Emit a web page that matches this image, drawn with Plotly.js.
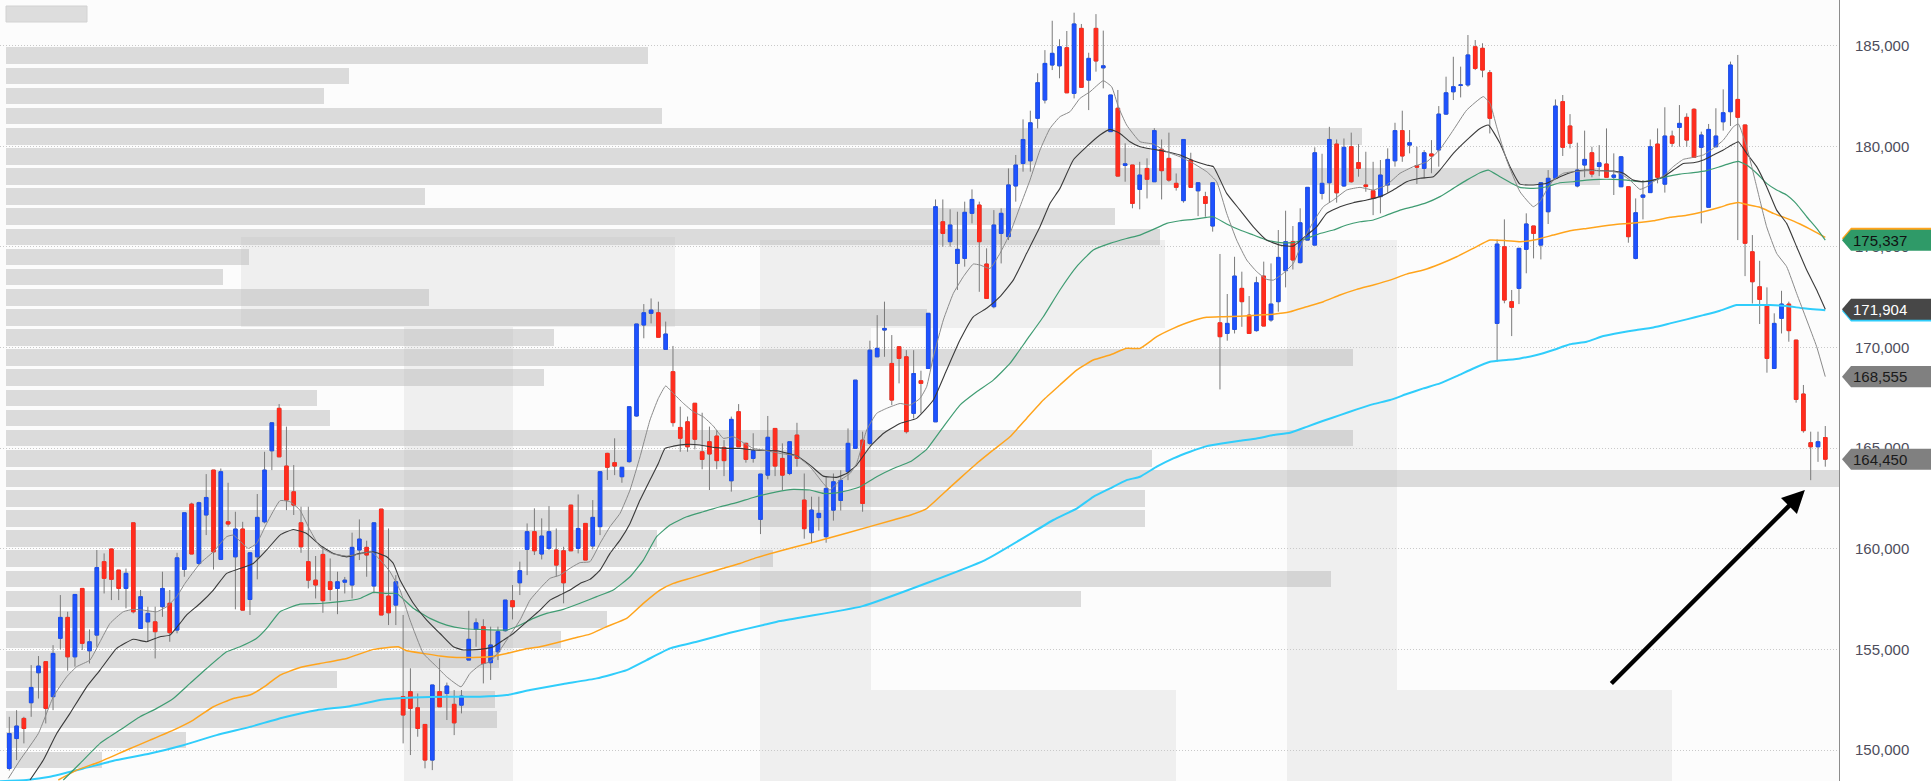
<!DOCTYPE html>
<html><head><meta charset="utf-8">
<script src="https://cdn.plot.ly/plotly-3.0.1.min.js"></script>
<style>html,body{margin:0;padding:0;background:#fff;overflow:hidden}#chart{width:1931px;height:781px}</style>
</head><body><div id="chart"></div>
<script>
// ---- candle data (thousand yen) ----
const open = [149.08,150.57,151.57,152.35,153.84,154.39,152.65,155.55,156.59,154.63,
158.03,154.93,155.71,159.36,159.99,158.94,158.03,161.29,156.04,156.37,
156.37,157.12,157.29,155.96,158.97,162.22,159.27,161.68,163.91,159.47,
161.34,159.6,160.98,157.48,159.6,161.34,164.87,166.98,164.11,162.83,
161.29,159.36,158.44,159.72,158.36,158.03,158.34,158.2,159.94,160.07,
158.15,161.97,157.65,157.2,152.65,152.9,152.1,151.27,149.5,152.9,
152.81,152.27,152.23,154.47,155.99,156.13,154.34,154.88,155.93,157.42,
158.31,159.97,160.85,159.74,160.02,159.94,159.9,162.17,160.02,161.26,
160.14,161.1,164.74,164.28,163.58,164.33,166.6,171.12,171.7,171.73,
169.91,168.8,166.03,166.31,167.23,164.82,165.32,165.6,165.04,163.38,
166.81,165.24,164.49,161.46,163.66,165.98,164.49,163.74,165.65,162.42,
160.8,161.55,160.6,161.92,162.4,163.83,164.99,165.4,165.24,169.54,
170.87,169.21,170.04,169.54,166.73,168.35,168.96,166.31,176.25,175.26,
174.18,174.43,176.67,177.08,174.15,172.03,175.67,175.51,178.03,179.15,
179.28,181.39,182.3,184.04,184.0,184.9,182.63,185.86,183.29,185.86,
183.9,180.73,181.89,179.05,179.07,177.86,178.9,178.24,179.85,179.4,
178.16,177.3,179.32,177.79,177.5,176.04,171.23,170.7,170.9,172.94,
171.61,170.84,173.55,171.37,172.28,173.82,175.26,174.22,175.34,175.09,
177.66,178.19,180.11,178.03,179.98,179.19,178.08,177.79,177.5,178.08,
179.28,180.78,180.06,179.04,178.9,179.62,179.82,181.6,182.71,183.03,
183.05,184.95,184.87,183.66,171.2,175.01,172.28,172.94,174.88,176.04,
175.09,176.75,178.41,182.22,181.01,178.03,179.07,179.68,179.0,179.12,
178.46,177.99,177.99,174.43,177.47,177.7,180.11,178.12,180.51,180.94,
181.44,181.84,179.95,176.97,179.98,181.22,181.72,182.33,181.06,174.76,
173.02,172.06,168.96,171.45,172.16,170.37,167.69,165.27,165.07,165.53];
const high = [151.65,151.98,151.65,154.22,154.67,154.39,155.21,157.7,156.87,157.73,
158.03,155.99,159.94,159.77,159.99,158.94,159.02,161.29,157.95,157.12,
157.12,158.86,157.95,159.8,161.79,162.29,162.34,163.71,163.91,163.99,
163.28,161.84,161.34,159.8,162.72,164.82,166.26,167.19,166.07,164.16,
162.09,162.09,159.64,160.1,159.52,158.86,158.6,160.8,161.46,160.4,
161.29,161.97,161.01,158.69,156.71,154.06,152.81,151.27,153.23,154.55,
153.35,152.98,152.98,156.92,156.54,156.5,156.13,156.13,157.45,158.2,
159.36,161.26,162.01,161.51,162.12,161.01,160.1,162.17,162.7,161.26,
162.42,163.83,164.77,165.49,164.05,167.06,171.17,172.16,172.44,172.28,
171.29,170.08,167.06,166.57,167.23,166.76,166.07,165.9,165.4,166.57,
167.19,165.27,165.74,163.71,166.6,165.98,165.24,165.32,166.26,163.74,
162.59,162.59,163.58,163.74,163.9,165.98,168.38,165.82,170.34,171.61,
172.28,170.62,170.04,169.87,169.87,168.85,171.7,177.36,177.36,176.87,
176.75,177.25,177.86,177.25,174.93,176.83,176.92,178.9,179.57,181.34,
181.77,183.63,184.78,186.24,185.32,185.73,186.64,186.08,184.65,186.57,
185.75,182.55,182.8,180.15,179.07,179.23,179.4,180.9,180.34,180.68,
178.65,180.34,179.68,178.19,177.74,178.19,174.65,172.66,174.51,173.77,
172.56,173.52,174.27,174.18,175.84,176.8,176.04,176.92,177.96,179.95,
179.63,180.97,180.34,180.39,180.68,180.11,179.73,179.23,179.32,179.9,
181.17,181.77,180.81,179.98,179.81,180.31,182.0,183.46,184.45,183.96,
185.53,185.28,185.12,183.79,175.37,176.37,172.86,174.93,176.67,176.04,
178.19,178.82,182.33,182.55,181.6,180.18,180.78,179.98,180.06,180.89,
179.65,179.52,177.99,177.41,178.32,180.34,180.89,181.94,180.78,182.05,
181.64,181.89,180.73,181.11,181.89,182.83,184.21,184.54,181.06,175.59,
174.31,172.99,171.7,172.82,172.28,170.37,168.14,165.82,165.82,166.1];
const low = [148.98,149.5,150.33,151.65,152.56,151.32,151.98,155.0,153.94,154.14,
154.97,154.3,155.13,157.78,157.45,157.45,157.04,156.79,156.04,155.38,
154.55,156.62,155.38,155.8,158.61,159.74,159.19,160.68,158.97,159.44,
161.1,156.99,156.95,156.71,158.48,161.26,163.91,164.57,161.92,161.68,
159.8,158.03,157.53,156.82,157.42,156.75,157.78,157.53,159.44,158.61,
157.78,156.71,156.21,156.21,150.33,149.75,150.66,149.09,149.0,152.15,
151.49,150.74,151.82,154.47,155.13,153.31,153.48,154.47,155.88,156.49,
157.7,158.69,159.69,159.47,159.94,158.61,157.29,159.9,159.77,159.44,
159.97,160.68,163.42,163.66,163.28,164.28,166.57,170.46,171.2,170.51,
169.91,166.07,164.82,164.82,164.94,163.95,162.92,163.95,163.61,162.84,
165.07,164.28,164.28,160.73,163.45,163.61,162.92,163.66,164.08,160.5,
160.3,160.9,160.3,161.4,161.9,163.41,164.99,161.84,165.15,169.54,
169.54,167.14,168.22,165.73,166.48,166.73,168.96,166.31,175.01,175.01,
172.86,174.02,176.17,172.77,172.44,171.95,174.18,175.34,177.25,178.74,
178.74,180.89,182.13,183.79,183.38,182.66,182.38,182.93,181.8,183.71,
182.88,180.73,178.52,178.24,176.92,176.87,177.41,178.24,177.36,178.24,
177.8,177.2,177.96,176.53,176.5,175.76,167.92,170.34,170.7,171.03,
170.7,170.79,171.07,171.28,171.78,172.99,173.88,174.18,175.34,175.09,
177.36,177.2,177.2,177.99,178.19,178.49,177.74,176.58,176.67,177.7,
178.99,179.23,179.65,178.13,178.41,178.66,178.99,181.56,182.3,182.43,
182.96,183.79,183.43,180.64,169.29,172.2,170.57,172.16,173.69,174.43,
174.38,176.14,178.41,179.52,179.9,177.96,178.46,178.46,178.52,178.46,
177.58,177.99,175.21,174.38,176.37,177.7,178.16,177.7,179.98,179.98,
179.98,179.45,176.17,176.97,179.95,180.78,181.01,175.34,173.55,172.19,
171.17,168.75,168.96,170.7,170.29,167.26,165.77,163.41,164.32,164.08];
const close = [150.82,151.19,151.07,153.11,154.17,152.07,154.8,156.59,154.63,157.73,
155.3,155.38,159.07,158.53,158.48,158.03,158.78,156.87,157.62,156.79,
155.88,158.03,155.83,159.55,161.79,159.74,162.29,162.55,159.85,163.83,
161.23,160.98,156.95,159.8,161.56,163.91,166.26,164.57,162.42,162.17,
160.1,158.44,158.2,157.42,157.98,158.36,158.44,160.07,160.48,159.69,
161.29,156.71,156.82,158.36,151.74,152.07,151.07,149.5,153.23,152.15,
153.18,151.35,152.68,155.5,156.32,154.3,155.22,155.88,157.45,157.12,
158.91,160.85,159.9,160.63,160.85,159.19,158.31,159.9,161.01,159.44,
161.56,163.83,164.05,164.11,164.05,167.06,171.17,171.73,171.86,170.51,
170.67,166.27,165.49,165.07,165.44,164.44,164.71,164.38,164.38,166.43,
165.07,164.44,164.87,163.71,165.54,164.11,163.66,165.32,164.49,161.0,
161.92,161.76,163.0,163.33,163.4,165.24,168.38,162.25,169.87,169.96,
170.95,167.39,169.46,165.82,168.71,168.22,171.7,177.0,175.67,176.09,
174.88,176.72,177.36,175.26,172.44,176.09,176.67,178.08,179.07,180.34,
181.17,183.16,184.12,184.62,184.95,182.66,186.08,182.93,184.37,184.24,
184.0,182.55,178.52,179.13,177.16,178.57,178.36,180.78,178.79,178.32,
177.96,180.34,177.96,178.19,177.16,178.19,170.54,171.2,173.55,172.28,
170.7,173.22,171.07,172.16,174.48,175.26,174.35,176.2,177.96,179.68,
178.16,180.34,177.69,179.95,178.24,178.9,178.0,177.41,178.57,179.35,
180.78,179.52,180.18,178.96,179.68,179.52,181.6,182.66,182.96,183.05,
184.54,183.87,183.79,181.39,175.14,172.36,172.0,174.93,176.14,175.67,
178.19,178.41,182.0,179.95,180.15,178.82,179.35,178.62,179.18,178.46,
178.57,179.48,175.51,176.7,177.58,179.98,178.46,180.51,180.15,181.14,
180.31,179.45,180.56,180.84,180.51,181.67,184.04,181.44,175.18,173.27,
172.39,169.46,171.2,172.16,170.84,167.42,165.87,165.07,165.32,164.45];

// ---- moving averages: [candle index, value] ----
const ma10 = [[-0.13,148.59],[1.47,149.5],[3.98,150.82],[6.04,152.65],[7.87,153.64],[9.24,154.14],[11.06,154.47],[12.44,155.38],[13.81,156.29],[15.63,156.87],[17,156.99],[18.38,156.95],[20.21,156.87],[21.58,157.12],[22.95,157.62],[24.09,158.28],[26.15,159.27],[27.98,159.85],[29.8,160.6],[30.72,160.68],[32.77,160.02],[33.92,160.27],[35.29,161.26],[37.12,162.39],[38.49,162.34],[39.86,161.92],[41.23,160.93],[42.6,160.1],[44.43,159.74],[46.26,159.64],[48.08,159.74],[49.68,159.85],[51.28,159.27],[52.2,158.86],[53.57,157.95],[54.94,156.46],[56.77,154.8],[58.6,154.14],[59.97,153.64],[61.94,153.14],[63.17,153.81],[64.54,154.22],[65.91,154.39],[67.28,154.97],[68.65,155.71],[70.03,156.46],[71.4,157.45],[72.77,158.03],[74.14,158.53],[75.51,158.69],[76.88,159.03],[78.25,159.31],[79.62,159.36],[81,160.27],[82.37,161.1],[83.74,161.76],[85.11,162.92],[86.48,164.57],[87.85,166.4],[88.99,167.47],[90,168.09],[91.05,167.72],[92.42,167.23],[93.79,166.81],[95.16,166.56],[96.53,166.1],[97.9,165.49],[99.28,165.57],[100.65,165.27],[102.02,164.99],[103.5,164.9],[105.67,164.74],[107.96,164.61],[109.79,164.08],[111.61,163.25],[112.53,162.92],[113.9,163.41],[115.27,163.74],[116.18,164.24],[117.56,165.9],[118.93,166.73],[120.3,166.98],[122.13,167.22],[123.5,167.14],[124.87,167.47],[125.78,168.05],[126.7,169.54],[128.07,171.37],[129.44,172.69],[130.81,173.52],[132.18,174.15],[133.1,174.1],[134.47,173.93],[135.84,174.68],[137.21,175.67],[138.58,177],[139.95,178.32],[141.32,179.81],[142.69,180.89],[144.06,181.47],[145.43,181.72],[146.8,182.38],[148.18,182.71],[150,183.26],[151.15,182.96],[152.06,181.97],[153.2,181.06],[155.04,180.23],[156.87,180.11],[158.7,179.73],[160.52,179.48],[162.35,179.15],[164.18,178.74],[165.55,178.24],[166.92,176.67],[168.29,175.34],[169.67,174.35],[171.04,173.77],[172.41,173.39],[173.32,173.35],[174.69,173.69],[176.06,174.18],[177.43,175.34],[178.81,176.25],[180.18,177],[181.55,177.33],[183.38,177.83],[185.2,177.96],[187.03,177.83],[188.86,178.08],[190.69,178.66],[192.52,178.99],[194.35,179.23],[196.17,179.85],[198,180.81],[199.83,181.8],[202.11,182.47],[203.03,182.13],[203.94,180.97],[205.31,179.32],[207.14,177.74],[208.97,177],[209.88,177.25],[210.8,177.83],[211.71,178.32],[213.08,178.66],[214.45,178.74],[216.28,178.79],[218.11,178.79],[219.94,178.74],[220.85,178.66],[222.22,178.32],[223.59,177.86],[224.51,177.99],[225.42,178.24],[226.79,178.52],[228.16,178.99],[229.53,179.35],[230.91,179.45],[232.28,179.57],[233.65,179.9],[235.02,180.31],[236.39,180.97],[237.08,181.11],[238.22,179.98],[239.59,177.99],[240.96,176],[242.33,174.68],[243.7,174.02],[245.07,172.69],[246.45,171.37],[247.82,170.04],[249,168.555]];
const ma15 = [[2.84,148.51],[4.67,149.5],[6.5,150.82],[8.32,151.82],[10.61,153.14],[12.44,153.97],[14.72,155.05],[17,155.5],[18.84,155.38],[20.66,155.63],[22.03,155.71],[23.4,156.29],[24.32,156.71],[26.15,157.28],[27.98,157.95],[29.8,158.78],[31.63,159.02],[33.46,159.27],[35.29,159.94],[37.12,160.68],[38.94,160.96],[40.77,160.76],[42.6,160.18],[44.43,159.77],[46.26,159.6],[48.08,159.77],[49.91,159.85],[51.74,159.6],[52.66,159.27],[53.57,158.45],[55.4,157.29],[57.23,156.46],[59.06,155.79],[60.88,155.13],[62.26,154.97],[64.54,155],[66.37,155.13],[67.74,155.46],[69.11,155.79],[70.94,156.37],[72.77,156.95],[74.14,157.45],[75.51,157.7],[76.88,157.95],[78.25,158.28],[79.62,158.48],[81,158.94],[82.37,159.77],[83.74,160.43],[85.11,161.26],[86.48,162.42],[87.85,163.42],[88.99,164.24],[89.91,164.99],[91.05,165.1],[92.88,165.19],[94.7,165.16],[96.53,165.04],[98.36,164.99],[100.19,164.99],[102.02,164.91],[105.22,164.87],[107.96,164.61],[109.79,164.16],[111.61,163.61],[113.44,163.55],[114.81,163.74],[116.18,164.16],[118.01,165.07],[119.84,165.73],[122.13,166.23],[124.41,166.48],[126.7,167.39],[128.52,168.88],[130.35,170.37],[132.18,171.53],[134.01,171.95],[135.84,172.53],[137.66,173.35],[139.49,174.68],[141.32,176],[142.69,177.16],[144.06,177.91],[145.89,179.32],[147.72,179.98],[149.55,180.56],[150.92,180.84],[152.29,180.64],[153.66,180.23],[155.04,179.98],[156.87,179.85],[158.7,179.73],[160.52,179.57],[162.35,179.28],[164.18,179.07],[165.09,178.99],[166.92,177.66],[168.75,176.83],[170.58,176],[172.41,175.34],[174.24,175.09],[176.06,175.04],[177.89,175.59],[179.26,176],[180.63,176.67],[182.46,177],[184.29,177.2],[186.12,177.33],[187.95,177.5],[189.77,177.83],[191.6,178.24],[193.43,178.41],[195.26,178.49],[196.17,178.82],[198,179.65],[199.83,180.31],[201.66,180.89],[202.8,181.06],[204.4,180.15],[205.77,178.99],[207.14,178.12],[208.97,178.08],[210.8,178.16],[212.62,178.49],[214.45,178.74],[216.28,178.82],[218.11,178.79],[219.94,178.77],[221.31,178.66],[222.68,178.32],[224.05,178.24],[225.42,178.32],[226.79,178.49],[228.16,178.82],[229.53,179.15],[230.91,179.18],[232.28,179.32],[233.65,179.57],[235.02,179.82],[236.39,180.11],[237.08,180.23],[238.22,179.65],[239.59,178.99],[240.96,177.99],[242.33,176.83],[243.7,176.17],[245.07,175.01],[246.45,173.85],[247.82,172.86],[249,171.904]];
const maGreen = [[7.41,148.51],[9.69,149.33],[12.44,150.33],[15.18,150.99],[17.92,151.65],[20.21,152.07],[22.49,152.56],[24.78,153.31],[27.06,154.05],[29.8,154.88],[31.63,155.13],[33.92,155.55],[35.29,156.04],[37.12,156.87],[39.86,157.25],[42.6,157.28],[45.34,157.37],[48.08,157.53],[49.91,157.83],[51.74,157.78],[53.12,157.78],[55.4,157.04],[57.69,156.54],[59.97,156.21],[62.26,156.04],[64.54,155.99],[66.83,155.96],[68.2,155.96],[70.03,156.21],[71.85,156.54],[73.68,156.79],[75.97,156.99],[78.25,157.29],[80.54,157.62],[82.82,157.95],[85.11,158.61],[86.94,159.44],[88.76,160.6],[90.59,161.18],[92.88,161.59],[95.16,161.84],[97.45,162.09],[99.73,162.29],[102.02,162.55],[105.22,162.83],[107.5,162.95],[109.79,162.92],[111.61,162.75],[113.44,162.78],[115.27,162.92],[116.64,163.08],[118.93,163.58],[121.21,163.99],[123.5,164.32],[125.78,164.94],[128.07,166.06],[130.35,167.14],[132.64,167.8],[134.92,168.38],[137.21,169.21],[139.49,170.37],[141.78,171.53],[144.06,172.86],[146.35,174.02],[148.63,174.85],[150.92,175.18],[153.2,175.42],[155.04,175.59],[156.87,175.87],[158.7,176.17],[160.52,176.3],[162.35,176.37],[164.18,176.47],[165.09,176.5],[166.92,176.14],[168.75,175.84],[170.58,175.59],[172.41,175.34],[174.24,175.21],[176.06,175.21],[177.89,175.42],[179.72,175.67],[181.55,175.84],[183.38,176.09],[185.2,176.25],[187.03,176.34],[188.86,176.58],[190.69,176.83],[192.52,177],[194.35,177.2],[196.17,177.5],[198,177.91],[199.83,178.32],[201.66,178.69],[202.8,178.82],[204.4,178.49],[206.23,178.12],[207.14,177.96],[208.97,177.91],[210.8,177.99],[212.62,178.19],[214.45,178.24],[216.28,178.32],[218.11,178.36],[219.94,178.36],[221.77,178.32],[223.59,178.24],[225.42,178.32],[227.25,178.49],[229.08,178.62],[230.91,178.69],[232.73,178.79],[234.56,178.99],[235.93,179.15],[237.08,179.25],[238.22,179.07],[239.59,178.66],[240.96,178.16],[242.33,177.83],[243.7,177.58],[245.07,177.13],[246.45,176.5],[247.82,175.92],[249,175.337]];
const maOrange = [[6.72,148.51],[9.24,149],[12.44,149.42],[16.09,150],[19.29,150.49],[22.49,150.99],[25.23,151.49],[27.98,152.15],[30.72,152.56],[33,152.73],[35.29,153.23],[37.12,153.72],[39.86,154.1],[42.6,154.3],[46.26,154.55],[49.91,155],[53.34,155.13],[54.49,154.93],[56.77,154.8],[59.06,154.67],[61.34,154.6],[63.63,154.6],[65.91,154.63],[68.2,154.8],[70.48,155],[72.77,155.13],[75.05,155.33],[77.34,155.55],[79.62,155.76],[81.91,156.13],[84.65,156.54],[86.94,157.29],[89.22,157.95],[91.05,158.28],[93.33,158.53],[95.62,158.78],[97.9,159.03],[100.19,159.27],[102.47,159.56],[105.67,159.89],[110,160.3],[115,160.8],[121.21,161.43],[123.5,161.67],[125.78,162],[128.07,162.75],[130.35,163.5],[132.64,164.24],[134.92,164.91],[137.21,165.57],[139.49,166.48],[141.78,167.39],[144.06,168.14],[146.35,168.88],[148.63,169.38],[150.92,169.63],[153.2,169.96],[155.04,169.96],[157.33,170.54],[159.61,170.95],[161.9,171.28],[164.18,171.5],[166.47,171.53],[168.75,171.56],[171.04,171.61],[173.32,171.66],[175.61,171.78],[177.89,172.03],[180.18,172.28],[182.46,172.61],[184.75,172.89],[187.03,173.11],[189.32,173.35],[191.6,173.65],[193.89,173.85],[196.17,174.15],[198.46,174.51],[200.74,174.93],[203.03,175.34],[205.31,175.31],[207.14,175.26],[209.43,175.37],[211.71,175.59],[214,175.8],[216.28,175.92],[218.57,176.04],[220.85,176.14],[223.14,176.2],[225.42,176.3],[227.71,176.47],[229.99,176.58],[232.28,176.75],[234.56,176.97],[235.93,177.13],[237.08,177.21],[238.22,177.11],[240.05,176.97],[241.87,176.67],[243.7,176.42],[245.53,176.14],[247.36,175.8],[249,175.47]];
const maCyan = [[-1.3,148.45],[2.38,148.51],[5.58,148.67],[10.15,149.08],[14.72,149.5],[19.29,149.83],[23.86,150.24],[28.43,150.74],[33,151.15],[37.57,151.62],[42.14,151.98],[46.71,152.18],[51.28,152.51],[55.4,152.61],[59.97,152.65],[64.54,152.65],[68.2,152.73],[71.4,152.98],[75.97,153.28],[80.54,153.56],[84.65,153.97],[87.39,154.47],[90.59,155.05],[94.25,155.38],[98.82,155.83],[103.39,156.21],[105.67,156.41],[117,157.15],[133.8,159.44],[143.15,161.43],[146.35,162],[148.63,162.58],[150.92,163],[153.2,163.41],[155.04,163.58],[157.33,164.08],[159.61,164.49],[161.9,164.82],[164.18,165.1],[166.47,165.24],[168.75,165.37],[171.04,165.48],[173.32,165.65],[175.61,165.77],[177.89,166.06],[180.18,166.36],[182.46,166.64],[184.75,166.93],[187.03,167.19],[189.32,167.39],[191.6,167.69],[193.89,167.97],[196.17,168.22],[198.46,168.58],[200.74,168.96],[203.03,169.29],[205.31,169.38],[207.14,169.46],[209.43,169.63],[211.71,169.88],[214,170.16],[216.28,170.29],[218.57,170.57],[220.85,170.74],[223.14,170.87],[225.42,171],[227.71,171.2],[229.99,171.4],[232.28,171.61],[234.56,171.83],[236.85,172.11],[239.14,172.11],[241.42,172.11],[243.7,172.06],[245.99,171.95],[249,171.85]];

// ---- volume-by-price profile (bin centre, relative volume) ----
const vpPrice = [184.5,183.5,182.5,181.5,180.5,179.5,178.5,177.5,176.5,175.5,174.5,173.5,172.5,171.5,170.5,169.5,168.5,167.5,166.5,165.5,164.5,163.5,162.5,161.5,160.5,159.5,158.5,157.5,156.5,155.5,154.5,153.5,152.5,151.5,150.5,149.5];
const vpVol = [642,343,318,656,1356,1144,1594,419,1109,1154,243,217,423,921,548,1347,538,311,324,1347,1146,1833,1139,1139,651,767,1325,1075,601,555,493,331,489,491,180,96];

// ---- last-value labels and price scale ----
const lastVals = [175.337, 171.904, 168.555, 164.45];
const lastText = ['175,337', '171,904', '168,555', '164,450'];
const lastFill = ['#2f9a68', '#474747', '#808080', '#808080'];
const lastFont = ['#111111', '#ffffff', '#1a1a1a', '#1a1a1a'];
const yTicks = [150, 155, 160, 165, 170, 175, 180, 185];
const yTickText = ['150,000', '155,000', '160,000', '165,000', '170,000', '175,000', '180,000', '185,000'];

// ---------------------------------------------------------
const W = 1931, H = 781, PW = 1839;
const px = v => v / PW;          // pixel -> paper x
const py = v => 1 - v / H;       // pixel -> paper y
const idx = open.map((_, i) => i);
const bodyHi = open.map((o, i) => Math.max(o, close[i]));
const bodyLo = open.map((o, i) => Math.min(o, close[i]));
const line = (pairs, color, width) => ({
  type: 'scatter', mode: 'lines', x: pairs.map(p => p[0]), y: pairs.map(p => p[1]),
  xaxis: 'x2', yaxis: 'y', line: {color: color, width: width, shape: 'spline', smoothing: 0.4},
  hoverinfo: 'skip'
});

const traces = [
  {type: 'bar', orientation: 'h', x: vpVol, y: vpPrice, base: 0, width: 0.83,
   marker: {color: 'rgba(186,186,186,0.5)', line: {width: 0}}, xaxis: 'x', yaxis: 'y', hoverinfo: 'skip'},
  {type: 'candlestick', x: idx, open: open, high: high, low: low, close: close, xaxis: 'x2', yaxis: 'y',
   whiskerwidth: 0, hoverinfo: 'skip',
   increasing: {line: {color: '#7a7a7a', width: 1}, fillcolor: 'rgba(0,0,0,0)'},
   decreasing: {line: {color: '#7a7a7a', width: 1}, fillcolor: 'rgba(0,0,0,0)'}},
  {type: 'candlestick', x: idx, open: open, high: bodyHi, low: bodyLo, close: close, xaxis: 'x2', yaxis: 'y',
   whiskerwidth: 0, hoverinfo: 'skip',
   increasing: {line: {color: '#1c4ff0', width: 1}, fillcolor: '#1f52ff'},
   decreasing: {line: {color: '#ff2a1c', width: 1}, fillcolor: '#ff2d1e'}},
  line(maCyan, '#30cdfb', 2),
  line(maOrange, '#ffa41c', 1.5),
  line(maGreen, '#3f9c72', 1.2),
  line(ma15, '#3a3a3a', 1.1),
  line(ma10, '#8a8a8a', 1)
];

const shapes = [];
// faint background block lettering
const blocks = [[241,237,675,327],[404,327,513,781],[760,240,871,781],[871,240,1165,328],[871,690,1176,781],[1287,240,1397,781],[1397,690,1672,781]];
blocks.forEach(b => shapes.push({type: 'rect', xref: 'paper', yref: 'paper', layer: 'below',
  x0: px(b[0]), x1: px(b[2]), y0: py(b[3]), y1: py(b[1]), fillcolor: '#efefef', line: {width: 0}}));
// small grey box at top-left
shapes.push({type: 'rect', xref: 'paper', yref: 'paper', layer: 'above', x0: px(6), x1: px(87), y0: py(22), y1: py(6),
  fillcolor: '#dddddd', line: {color: '#d2d2d2', width: 1}});
// value badges on the price scale
const hh = 10.5 / 20.123;
const badge = (v, fill, dy) => {
  const a = px(1842), b = px(1851), c = px(W + 2);
  const y = v + dy;
  return {type: 'path', xref: 'paper', yref: 'y', layer: 'above', fillcolor: fill, line: {width: 0},
    path: `M ${a},${y} L ${b},${y + hh} L ${c},${y + hh} L ${c},${y - hh} L ${b},${y - hh} Z`};
};
shapes.push(badge(lastVals[0], '#ffa41c', 0.09));
shapes.push(badge(lastVals[1], '#30cdfb', -0.09));
lastVals.forEach((v, i) => shapes.push(badge(v, lastFill[i], 0)));

const annotations = lastVals.map((v, i) => ({
  xref: 'paper', yref: 'y', x: px(1851), y: v, xanchor: 'left', yanchor: 'middle', showarrow: false,
  text: lastText[i], font: {family: 'Liberation Sans, Arial, sans-serif', size: 15, color: lastFont[i]}
}));
annotations.push({xref: 'x2', yref: 'y', x: 246.2, y: 162.92, ax: -195, ay: 195, text: '',
  showarrow: true, arrowhead: 2, arrowsize: 1, arrowwidth: 4.5, arrowcolor: '#000000', standoff: 0});

const layout = {
  width: W, height: H, margin: {l: 0, r: W - PW, t: 0, b: 0, pad: 0},
  paper_bgcolor: '#ffffff', plot_bgcolor: '#fcfcfc', showlegend: false, boxmode: 'overlay',
  boxgap: 0.3, boxgroupgap: 0.3, bargap: 0,
  xaxis: {range: [-6, 1833], visible: false, fixedrange: true},
  xaxis2: {overlaying: 'x', range: [-1.275, 250.88], visible: false, fixedrange: true, rangeslider: {visible: false}},
  yaxis: {range: [148.46, 187.271], side: 'right', tickmode: 'array', tickvals: yTicks, ticktext: yTickText,
    showgrid: true, gridcolor: '#c9c9c9', griddash: '1px,2px', gridwidth: 1, zeroline: false,
    showline: true, linecolor: '#8c8c8c', linewidth: 1, ticks: '', ticklabelstandoff: 12,
    tickfont: {family: 'Liberation Sans, Arial, sans-serif', size: 15, color: '#4d4d5c'}, fixedrange: true},
  shapes: shapes, annotations: annotations
};
Plotly.newPlot('chart', traces, layout, {staticPlot: true, displayModeBar: false});
</script></body></html>
